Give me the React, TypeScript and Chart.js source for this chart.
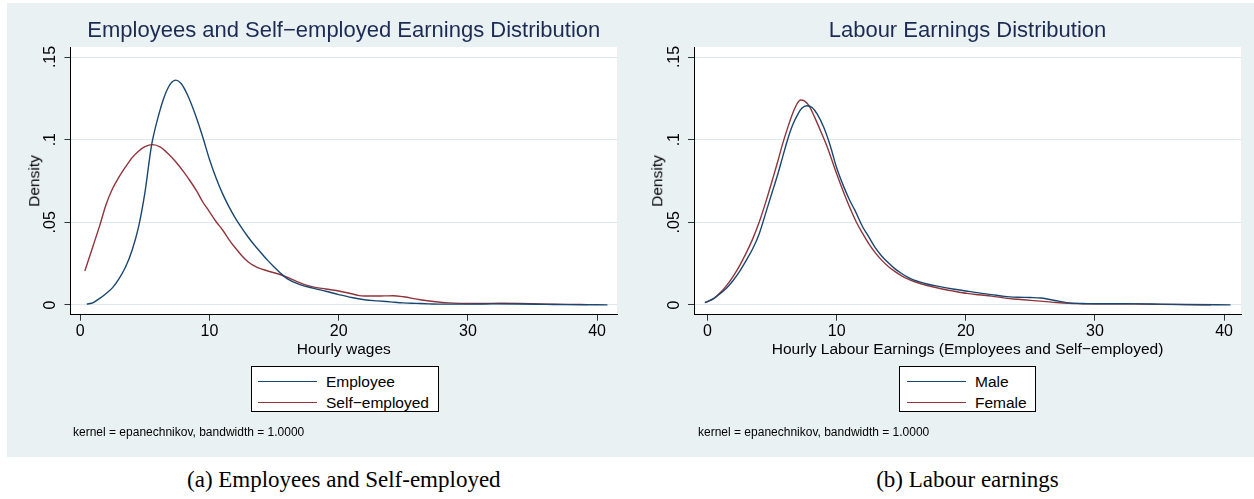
import React, { useEffect, useRef } from "react";
import { Chart, registerables } from "chart.js";

Chart.register(...registerables);

// ---------- data ----------
const X_TICKS = [0, 10, 20, 30, 40];
const Y_TICKS = [0, 0.05, 0.1, 0.15];
const Y_TICK_LABELS = ["0", ".05", ".1", ".15"];

const EMP_X = [0.5, 1.0, 1.5, 2.0, 2.5, 3.0, 3.5, 4.0, 4.5, 5.0, 5.5, 6.0, 6.5, 7.0, 7.4, 7.8, 8.3, 9.0, 9.5, 10.0, 10.5, 11.0, 11.5, 12.0, 12.5, 13.0, 13.5, 14.0, 14.5, 15.0, 15.5, 16.0, 17.0, 18.0, 19.0, 20.0, 21.0, 22.0, 23.0, 24.0, 25.0, 26.0, 27.0, 28.0, 30.0, 32.0, 34.0, 36.0, 38.0, 40.8];
const EMP_Y = [0.0005, 0.0015, 0.004, 0.007, 0.0105, 0.016, 0.023, 0.033, 0.047, 0.068, 0.096, 0.113, 0.126, 0.134, 0.136, 0.134, 0.127, 0.113, 0.101, 0.088, 0.077, 0.0675, 0.0595, 0.0525, 0.0465, 0.041, 0.036, 0.0315, 0.027, 0.023, 0.0192, 0.016, 0.0123, 0.0102, 0.0083, 0.0063, 0.0045, 0.0032, 0.0025, 0.0019, 0.0013, 0.001, 0.0007, 0.0005, 0.0005, 0.0007, 0.0006, 0.0004, 0.0002, 0.0001];

const SELF_X = [0.35, 1.0, 1.5, 2.0, 2.5, 3.0, 3.5, 4.0, 4.5, 5.0, 5.6, 6.2, 6.8, 7.4, 8.0, 8.5, 9.0, 9.5, 9.9, 10.5, 11.0, 11.6, 12.0, 12.5, 13.0, 13.5, 14.0, 15.0, 15.5, 16.0, 17.3, 18.0, 19.0, 20.1, 21.0, 21.6, 22.5, 23.5, 24.2, 25.0, 26.3, 27.5, 28.5, 29.4, 31.0, 32.5, 34.0, 35.5, 37.5, 39.3];
const SELF_Y = [0.0206, 0.036, 0.048, 0.061, 0.0705, 0.0775, 0.0835, 0.089, 0.093, 0.0958, 0.097, 0.0955, 0.0915, 0.0865, 0.0805, 0.075, 0.069, 0.062, 0.0575, 0.0505, 0.0455, 0.0385, 0.0345, 0.0298, 0.026, 0.0235, 0.0218, 0.0195, 0.0183, 0.0168, 0.0125, 0.011, 0.0097, 0.0083, 0.0068, 0.0057, 0.0054, 0.0055, 0.0056, 0.005, 0.0032, 0.002, 0.0013, 0.001, 0.0009, 0.0011, 0.001, 0.0007, 0.0004, 0.0002];

const MALE_X = [-0.2, 0.5, 1.0, 1.5, 2.0, 2.5, 3.0, 3.5, 4.0, 4.6, 5.0, 5.4, 5.8, 6.2, 6.6, 7.0, 7.3, 7.7, 8.1, 8.5, 9.0, 9.5, 10.0, 10.5, 11.0, 11.4, 12.0, 12.5, 13.0, 13.5, 14.0, 14.5, 15.0, 15.5, 16.0, 17.0, 18.0, 19.0, 20.0, 21.0, 22.0, 23.0, 24.0, 25.0, 25.8, 26.5, 27.3, 28.0, 29.0, 30.0, 32.0, 33.5, 35.0, 37.0, 40.5];
const MALE_Y = [0.0014, 0.004, 0.007, 0.0105, 0.015, 0.0205, 0.027, 0.034, 0.043, 0.058, 0.068, 0.078, 0.089, 0.1, 0.109, 0.1155, 0.119, 0.1205, 0.1195, 0.1155, 0.1075, 0.0965, 0.083, 0.0725, 0.0635, 0.0575, 0.0475, 0.041, 0.0345, 0.0295, 0.0255, 0.022, 0.0192, 0.0168, 0.015, 0.0127, 0.0111, 0.0097, 0.0085, 0.0073, 0.0063, 0.0052, 0.0047, 0.0045, 0.0042, 0.0033, 0.0022, 0.0013, 0.0009, 0.0008, 0.0008, 0.0007, 0.0005, 0.0003, 0.0001];

const FEMALE_X = [-0.2, 0.5, 1.0, 1.5, 2.0, 2.5, 3.0, 3.5, 4.0, 4.6, 5.0, 5.4, 5.8, 6.2, 6.6, 7.0, 7.2, 7.5, 7.9, 8.3, 8.8, 9.3, 9.9, 10.5, 11.1, 11.6, 12.0, 12.5, 13.0, 13.5, 14.0, 14.5, 15.0, 15.5, 16.0, 17.0, 18.0, 19.0, 20.1, 21.0, 22.0, 23.2, 24.0, 25.0, 26.0, 27.0, 28.0, 29.0, 30.0, 32.0, 33.5, 35.0, 37.0, 39.0];
const FEMALE_Y = [0.0014, 0.004, 0.0075, 0.012, 0.0175, 0.024, 0.0315, 0.04, 0.05, 0.0645, 0.075, 0.0857, 0.097, 0.107, 0.116, 0.1225, 0.124, 0.1235, 0.12, 0.1135, 0.1045, 0.095, 0.0815, 0.069, 0.0575, 0.049, 0.0435, 0.037, 0.0315, 0.027, 0.0233, 0.0203, 0.0178, 0.0158, 0.0142, 0.0118, 0.01, 0.0085, 0.007, 0.0062, 0.0054, 0.004, 0.0035, 0.0028, 0.0022, 0.0015, 0.001, 0.0008, 0.0007, 0.0008, 0.0006, 0.0004, 0.0002, 0.0001];

const LEFT_LEGEND = ["Employee", "Self\u2212employed"];
const RIGHT_LEGEND = ["Male", "Female"];

// ---------- styles ----------
const NAVY = "#1a476f";
const MAROON = "#90353b";
const BG = "#eaf1f3";
const GRID = "#dde7ec";
const TITLE_COLOR = "#1c2b54";
const SANS = '"Liberation Sans", Arial, Helvetica, sans-serif';
const SERIF = '"Liberation Serif", "Times New Roman", serif';

const PANEL_TOP = 3;
const PANEL_H = 454;
const PLOT_TOP = 44;
const PLOT_BOTTOM = 311.7;
const AXW = 30;
const AXH = 30;
const Y_MIN = -0.005867;
const Y_MAX = 0.15605;

type Series = { label: string; xs: number[]; ys: number[]; color: string };

function PanelChart(props: {
  left: number;
  width: number;
  plotLeft: number;
  plotRight: number;
  xMin: number;
  xMax: number;
  series: Series[];
}) {
  const ref = useRef<HTMLCanvasElement | null>(null);
  useEffect(() => {
    if (!ref.current) return;
    const chart = new Chart(ref.current, {
      type: "line",
      data: {
        datasets: props.series.map((s) => ({
          label: s.label,
          data: s.xs.map((x, i) => ({ x, y: s.ys[i] })),
          borderColor: s.color,
          backgroundColor: s.color,
          borderWidth: 1.4,
          pointRadius: 0,
          fill: false,
          cubicInterpolationMode: "monotone" as const,
        })),
      },
      options: {
        animation: false,
        responsive: false,
        maintainAspectRatio: false,
        devicePixelRatio: 1,
        events: [],
        layout: {
          padding: {
            left: props.plotLeft - AXW,
            right: props.width - props.plotRight,
            top: PLOT_TOP,
            bottom: PANEL_H - PLOT_BOTTOM - AXH,
          },
        },
        plugins: {
          legend: { display: false },
          title: { display: false },
          tooltip: { enabled: false },
        },
        scales: {
          x: {
            type: "linear",
            min: props.xMin,
            max: props.xMax,
            afterBuildTicks: (a: any) => {
              a.ticks = X_TICKS.map((v) => ({ value: v }));
            },
            afterFit: (a: any) => {
              a.height = AXH;
            },
            grid: {
              drawOnChartArea: false,
              drawTicks: true,
              tickLength: 6,
              tickColor: "#333",
              tickWidth: 1,
            },
            border: { display: true, color: "#000", width: 1 },
            ticks: {
              color: "#000",
              font: { family: SANS, size: 16 },
              padding: 1,
              maxRotation: 0,
              minRotation: 0,
              autoSkip: false,
              callback: (v: any) => String(v),
            },
          },
          y: {
            type: "linear",
            min: Y_MIN,
            max: Y_MAX,
            afterBuildTicks: (a: any) => {
              a.ticks = Y_TICKS.map((v) => ({ value: v }));
            },
            afterFit: (a: any) => {
              a.width = AXW;
            },
            grid: {
              color: GRID,
              lineWidth: 1,
              drawTicks: true,
              tickLength: 6,
              tickColor: "#333",
              tickWidth: 1,
            },
            border: { display: true, color: "#000", width: 1 },
            ticks: {
              color: "#000",
              font: { family: SANS, size: 16 },
              padding: 2.5,
              minRotation: 90,
              maxRotation: 90,
              crossAlign: "center",
              autoSkip: false,
              callback: (v: any) => {
                const i = Y_TICKS.findIndex((t) => Math.abs(t - Number(v)) < 1e-9);
                return i >= 0 ? Y_TICK_LABELS[i] : "";
              },
            },
          },
        },
      } as any,
      plugins: [
        {
          id: "plotbg",
          beforeDraw(c: any) {
            const a = c.chartArea;
            const ctx = c.ctx;
            ctx.save();
            ctx.fillStyle = "#ffffff";
            ctx.fillRect(a.left, a.top, a.right - a.left, a.bottom - a.top);
            ctx.restore();
          },
        },
      ],
    });
    return () => chart.destroy();
  }, []);
  return (
    <canvas
      ref={ref}
      width={props.width}
      height={PANEL_H}
      style={{
        position: "absolute",
        left: props.left,
        top: PANEL_TOP,
        width: props.width,
        height: PANEL_H,
      }}
    />
  );
}

function CText(props: {
  cx: number;
  top: number;
  size: number;
  text: string;
  color?: string;
  family?: string;
}) {
  return (
    <div
      style={{
        position: "absolute",
        left: props.cx - 400,
        width: 800,
        top: props.top,
        textAlign: "center",
        fontFamily: props.family || SANS,
        fontSize: props.size,
        lineHeight: 1,
        color: props.color || "#000",
        whiteSpace: "nowrap",
      }}
    >
      {props.text}
    </div>
  );
}

function VText(props: { cx: number; cy: number; size: number; text: string }) {
  return (
    <div
      style={{
        position: "absolute",
        left: props.cx,
        top: props.cy,
        transform: "translate(-50%, -50%) rotate(-90deg)",
        fontFamily: SANS,
        fontSize: props.size,
        lineHeight: 1,
        color: "#000",
        whiteSpace: "nowrap",
      }}
    >
      {props.text}
    </div>
  );
}

function Legend(props: {
  left: number;
  width: number;
  items: string[];
  colors: string[];
  lineLeft: number;
  textLeft: number;
}) {
  return (
    <div
      style={{
        position: "absolute",
        left: props.left,
        top: 366,
        width: props.width,
        height: 46,
        boxSizing: "border-box",
        border: "1px solid #000",
        background: "#fff",
      }}
    >
      {props.items.map((t, i) => (
        <React.Fragment key={t}>
          <div
            style={{
              position: "absolute",
              left: props.lineLeft,
              top: 15 + i * 21 - 1,
              width: 59,
              height: 0,
              borderTop: `1.4px solid ${props.colors[i]}`,
            }}
          />
          <div
            style={{
              position: "absolute",
              left: props.textLeft,
              top: 15 + i * 21 - 8.5,
              fontFamily: SANS,
              fontSize: 15.5,
              lineHeight: 1,
              whiteSpace: "nowrap",
              color: "#000",
            }}
          >
            {t}
          </div>
        </React.Fragment>
      ))}
    </div>
  );
}

export default function App() {
  const leftSeries: Series[] = [
    { label: LEFT_LEGEND[0], xs: EMP_X, ys: EMP_Y, color: NAVY },
    { label: LEFT_LEGEND[1], xs: SELF_X, ys: SELF_Y, color: MAROON },
  ];
  const rightSeries: Series[] = [
    { label: RIGHT_LEGEND[0], xs: MALE_X, ys: MALE_Y, color: NAVY },
    { label: RIGHT_LEGEND[1], xs: FEMALE_X, ys: FEMALE_Y, color: MAROON },
  ];
  return (
    <div
      style={{
        position: "absolute",
        left: 0,
        top: 0,
        width: 1254,
        height: 499,
        background: "#fff",
        overflow: "hidden",
      }}
    >
      <div
        style={{
          position: "absolute",
          left: 7,
          top: PANEL_TOP,
          width: 1247,
          height: PANEL_H,
          background: BG,
        }}
      />
      <PanelChart
        left={7}
        width={620}
        plotLeft={63.5}
        plotRight={610}
        xMin={-0.76}
        xMax={41.54}
        series={leftSeries}
      />
      <PanelChart
        left={627}
        width={627}
        plotLeft={67}
        plotRight={614}
        xMin={-1.045}
        xMax={41.31}
        series={rightSeries}
      />

      <CText cx={343.8} top={18.5} size={22} text={"Employees and Self\u2212employed Earnings Distribution"} color={TITLE_COLOR} />
      <CText cx={967.5} top={18.5} size={22} text={"Labour Earnings Distribution"} color={TITLE_COLOR} />

      <VText cx={33.8} cy={181} size={15.5} text="Density" />
      <VText cx={657} cy={181} size={15.5} text="Density" />

      <CText cx={343.8} top={340.5} size={15.5} text="Hourly wages" />
      <CText cx={967.5} top={340.5} size={15.5} text={"Hourly Labour Earnings (Employees and Self\u2212employed)"} />

      <Legend left={251} width={188} items={LEFT_LEGEND} colors={[NAVY, MAROON]} lineLeft={6} textLeft={74} />
      <Legend left={899} width={137} items={RIGHT_LEGEND} colors={[NAVY, MAROON]} lineLeft={7} textLeft={75} />

      <div style={{ position: "absolute", left: 73, top: 426, fontFamily: SANS, fontSize: 12, lineHeight: 1, whiteSpace: "nowrap" }}>
        kernel = epanechnikov, bandwidth = 1.0000
      </div>
      <div style={{ position: "absolute", left: 698, top: 426, fontFamily: SANS, fontSize: 12, lineHeight: 1, whiteSpace: "nowrap" }}>
        kernel = epanechnikov, bandwidth = 1.0000
      </div>

      <CText cx={343.8} top={467.5} size={23} text="(a) Employees and Self-employed" family={SERIF} />
      <CText cx={967.5} top={467.5} size={23} text="(b) Labour earnings" family={SERIF} />
    </div>
  );
}
